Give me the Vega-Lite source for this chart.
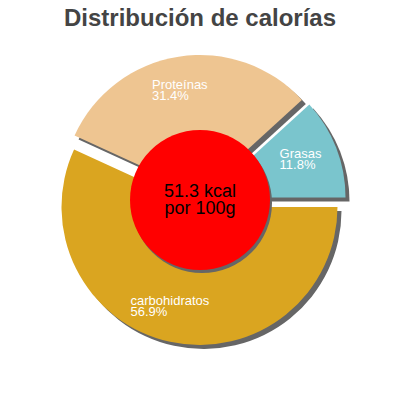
{
  "$schema": "https://vega.github.io/schema/vega-lite/v6.json",
  "width": 400,
  "height": 330,
  "padding": {"top": 7, "left": 0, "right": 0, "bottom": 0},
  "background": "white",
  "title": {
    "text": "Distribución de calorías",
    "font": "Liberation Sans",
    "fontSize": 24,
    "fontWeight": "bold",
    "color": "#444444",
    "anchor": "middle",
    "offset": 4
  },
  "config": {"view": {"stroke": null}},
  "data": {
    "values": [
      {"nutriente": "carbohidratos", "pct": 0.569, "orden": 1},
      {"nutriente": "Proteínas", "pct": 0.314, "orden": 2},
      {"nutriente": "Grasas", "pct": 0.118, "orden": 3}
    ]
  },
  "layer": [
    {
      "mark": {
        "type": "arc",
        "radius": 138,
        "fill": "#666666",
        "xOffset": {"expr": "datum.orden == 1 ? 3.5 : datum.orden == 2 ? 4 : 11.5"},
        "yOffset": {"expr": "datum.orden == 1 ? 11 : datum.orden == 2 ? -3 : 1.5"}
      },
      "encoding": {
        "theta": {"field": "pct", "type": "quantitative", "stack": true, "scale": {"range": [1.5708, 7.854]}},
        "order": {"field": "orden", "type": "quantitative"}
      }
    },
    {
      "mark": {
        "type": "arc",
        "radius": 138,
        "xOffset": {"expr": "datum.orden == 1 ? -0.5 : datum.orden == 2 ? 0 : 7.5"},
        "yOffset": {"expr": "datum.orden == 1 ? 7 : datum.orden == 2 ? -7 : -2.5"}
      },
      "encoding": {
        "theta": {"field": "pct", "type": "quantitative", "stack": true, "scale": {"range": [1.5708, 7.854]}},
        "order": {"field": "orden", "type": "quantitative"},
        "color": {
          "field": "nutriente",
          "type": "nominal",
          "scale": {"domain": ["carbohidratos", "Proteínas", "Grasas"], "range": ["#DAA520", "#EEC591", "#7AC5CD"]},
          "legend": null
        }
      }
    },
    {
      "mark": {
        "type": "text",
        "radius": 110,
        "align": "left",
        "baseline": "alphabetic",
        "font": "Liberation Sans",
        "fontSize": 13,
        "fill": "white",
        "dy": -2.5,
        "dx": {"expr": "datum.orden == 1 ? -46 : datum.orden == 2 ? -31 : -23"}
      },
      "encoding": {
        "theta": {"field": "pct", "type": "quantitative", "stack": true, "scale": {"range": [1.5708, 7.854]}},
        "order": {"field": "orden", "type": "quantitative"},
        "text": {"field": "nutriente", "type": "nominal"}
      }
    },
    {
      "mark": {
        "type": "text",
        "radius": 110,
        "align": "left",
        "baseline": "alphabetic",
        "font": "Liberation Sans",
        "fontSize": 13,
        "fill": "white",
        "dy": 9,
        "dx": {"expr": "datum.orden == 1 ? -46 : datum.orden == 2 ? -31 : -23"}
      },
      "encoding": {
        "theta": {"field": "pct", "type": "quantitative", "stack": true, "scale": {"range": [1.5708, 7.854]}},
        "order": {"field": "orden", "type": "quantitative"},
        "text": {"field": "pct", "type": "quantitative", "format": ".1%"}
      }
    },
    {
      "data": {"values": [{"etiqueta": "51.3 kcal\npor 100g"}]},
      "layer": [
        {"mark": {"type": "arc", "radius": 70, "fill": "#666666", "xOffset": 2, "yOffset": 3}, "encoding": {}},
        {"mark": {"type": "arc", "radius": 70, "fill": "#FF0000"}, "encoding": {}},
        {
          "mark": {"type": "text", "font": "Liberation Sans", "fontSize": 18, "lineHeight": 17, "lineBreak": "\n", "fill": "black", "align": "center", "baseline": "middle", "dy": -8},
          "encoding": {"text": {"field": "etiqueta", "type": "nominal"}}
        }
      ]
    }
  ]
}
